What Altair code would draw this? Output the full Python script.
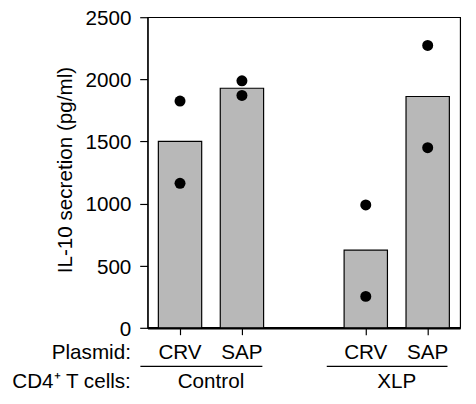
import altair as alt
import pandas as pd

# ---- data ----
plasmids = ["CRV", "SAP", "CRV", "SAP"]
slots = [0, 1, 3, 4]
bar_means = [1500, 1928, 625, 1862]
dot_slots = [0, 0, 1, 1, 3, 3, 4, 4]
dot_values = [1825, 1163, 1988, 1870, 989, 253, 2273, 1450]
y_ticks = [0, 500, 1000, 1500, 2000, 2500]
group_names = ["Control", "XLP"]
group_centers = [0.5, 3.5]
group_line_start = [-0.64, 2.37]
group_line_end = [1.33, 4.32]
row_labels = ["Plasmid:", "CD4\u207a T cells:"]
y_title = "IL-10 secretion (pg/ml)"

FONT = "Liberation Sans"
FS = 21
HALF = 0.35

bar_df = pd.DataFrame({
    "slot": slots,
    "lo": [s - HALF for s in slots],
    "hi": [s + HALF for s in slots],
    "value": bar_means,
    "base": [0] * len(slots),
    "plasmid": plasmids,
})
dot_df = pd.DataFrame({"slot": dot_slots, "value": dot_values})
grp_df = pd.DataFrame({
    "group": group_names,
    "center": group_centers,
    "start": group_line_start,
    "end": group_line_end,
})
row1_df = pd.DataFrame({"label": [row_labels[0]]})
row2_df = pd.DataFrame({"label": [row_labels[1]]})

xs = alt.Scale(domain=[-0.524, 4.524], nice=False, zero=False)
ys = alt.Scale(domain=[0, 2500], nice=False)

y_axis = alt.Axis(values=y_ticks, title=y_title, format="d",
                  grid=False, tickSize=8, tickWidth=1.2,
                  domainWidth=1.2, labelPadding=9, labelOffset=1.5,
                  titleAngle=270, titleX=-77.5, titleY=155,
                  titleBaseline="alphabetic", titleAlign="center")

bars = alt.Chart(bar_df).mark_rect(
    color="#b8b8b8", stroke="black", strokeWidth=1.2
).encode(
    x=alt.X("lo:Q", scale=xs,
            axis=alt.Axis(values=[0, 1, 3, 4], labels=False, ticks=True,
                          tickSize=7, tickWidth=1.2, domainWidth=2.6,
                          grid=False, title=None)),
    x2="hi:Q",
    y=alt.Y("value:Q", scale=ys, title=y_title, axis=y_axis),
    y2="base:Q",
)

dots = alt.Chart(dot_df).mark_circle(size=125, color="black", opacity=1).encode(
    x=alt.X("slot:Q", scale=xs),
    y=alt.Y("value:Q", scale=ys, title=y_title),
)

plasmid_text = alt.Chart(bar_df).mark_text(
    font=FONT, fontSize=FS, baseline="alphabetic", align="center", color="black"
).encode(
    x=alt.X("slot:Q", scale=xs),
    y=alt.value(348),
    text="plasmid:N",
)

group_text = alt.Chart(grp_df).mark_text(
    font=FONT, fontSize=FS, baseline="alphabetic", align="center", color="black"
).encode(
    x=alt.X("center:Q", scale=xs),
    y=alt.value(377.7),
    text="group:N",
)

group_lines = alt.Chart(grp_df).mark_rule(color="black", strokeWidth=1.3).encode(
    x=alt.X("start:Q", scale=xs),
    x2="end:Q",
    y=alt.value(355.3),
)

row1_text = alt.Chart(row1_df).mark_text(
    font=FONT, fontSize=FS, baseline="alphabetic", align="right", color="black"
).encode(x=alt.value(-17), y=alt.value(348), text="label:N")

row2_text = alt.Chart(row2_df).mark_text(
    font=FONT, fontSize=FS, baseline="alphabetic", align="right", color="black"
).encode(x=alt.value(-17), y=alt.value(377.7), text="label:N")

chart = alt.layer(
    bars, dots, plasmid_text, group_lines, group_text, row1_text, row2_text
).properties(
    width=318,
    height=316,
    autosize=alt.AutoSizeParams(type="none"),
    padding={"left": 142, "top": 6, "right": 8, "bottom": 66},
).configure_view(
    stroke="black", strokeWidth=1.2
).configure_axis(
    labelFont=FONT, labelFontSize=FS, labelColor="black",
    titleFont=FONT, titleFontSize=FS, titleColor="black", titleFontWeight="normal",
    domainColor="black", tickColor="black",
)

chart.save("out.html", embed_options={"renderer": "svg", "actions": False})
